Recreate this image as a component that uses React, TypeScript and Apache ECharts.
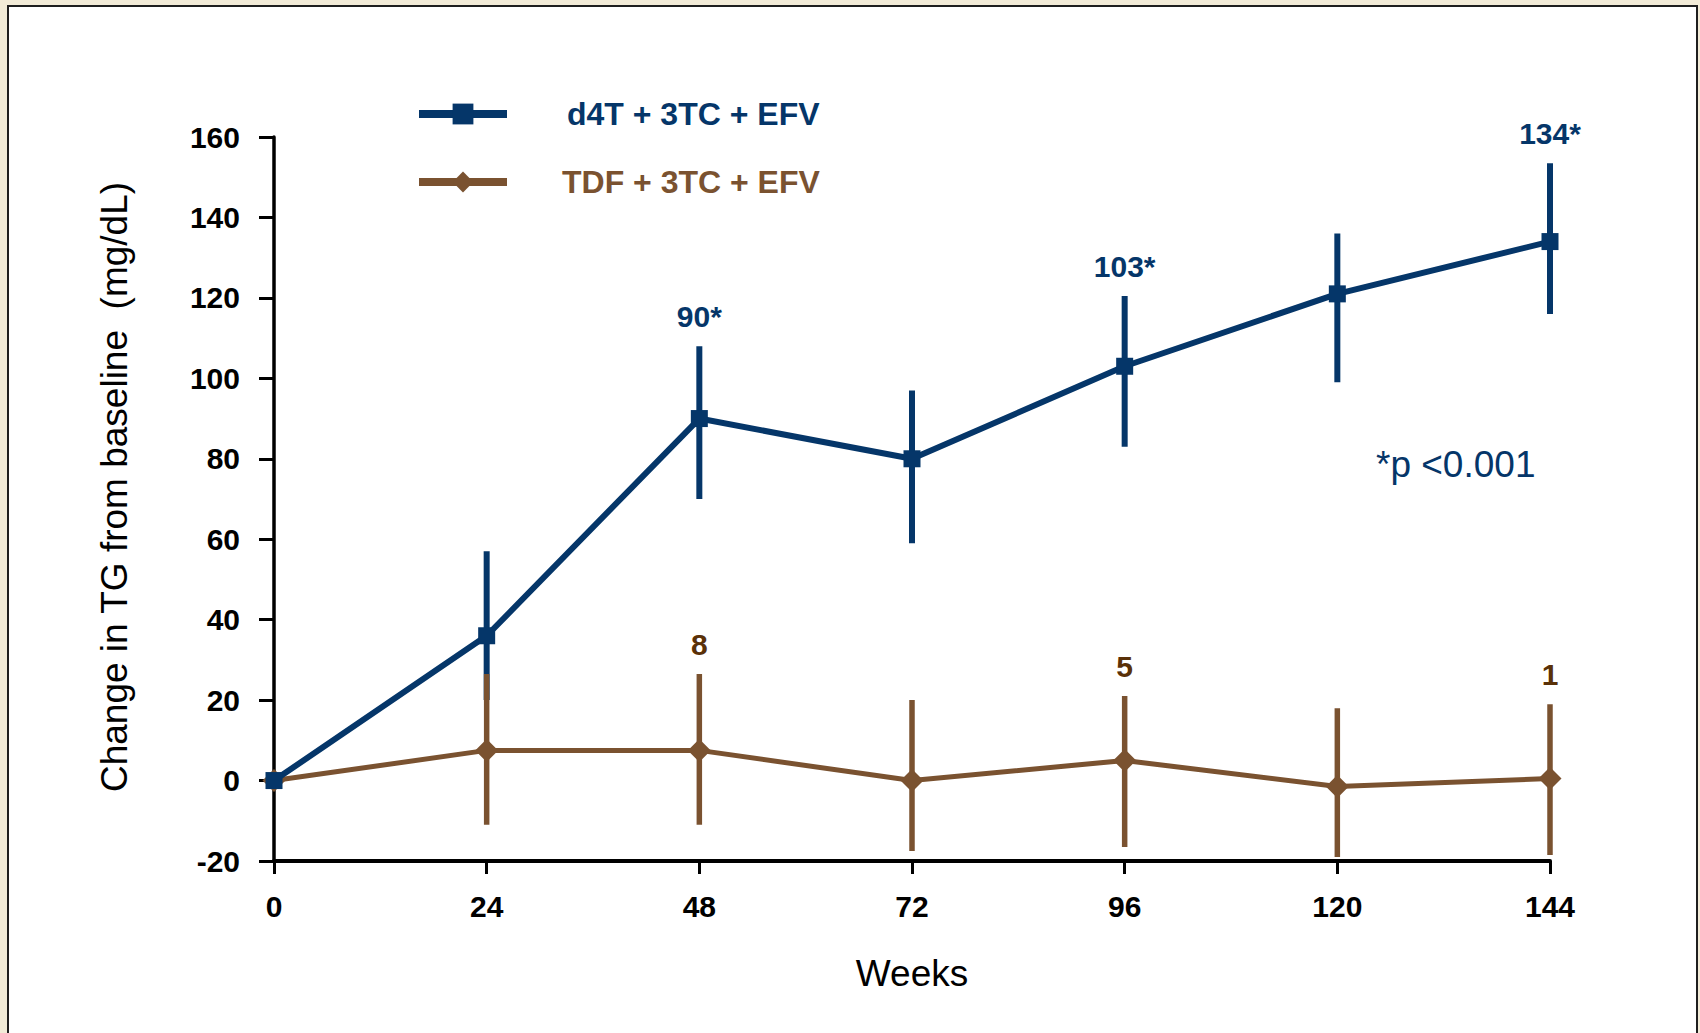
import React, { useEffect, useRef } from "react";
import * as echarts from "echarts";

const weeks = [0, 24, 48, 72, 96, 120, 144];

const d4tMean = [0, 36, 90, 80, 103, 121, 134];
const d4tLow = [0, 20, 70, 59, 83, 99, 116];
const d4tHigh = [0, 57, 108, 97, 120.5, 136, 153.5];
const d4tLabels = ["", "", "90*", "", "103*", "", "134*"];

const tdfMean = [0, 7.5, 7.5, 0, 5, -1.5, 0.5];
const tdfLow = [0, -11, -11, -17.5, -16.5, -19, -18.5];
const tdfHigh = [0, 26.5, 26.5, 20, 21, 18, 19];
const tdfLabels = ["", "", "8", "", "5", "", "1"];

const d4tName = "d4T + 3TC + EFV";
const tdfName = "TDF + 3TC + EFV";
const yTitle = "Change in TG from baseline  (mg/dL)";
const xTitle = "Weeks";
const pNote = "*p <0.001";

const BLUE = "#053669";
const BROWN = "#7A5230";
const BROWN_TEXT = "#5A3108";
const FONT = "'Liberation Sans', Arial, sans-serif";

export default function App() {
  const ref = useRef<HTMLDivElement>(null);

  useEffect(() => {
    if (!ref.current) return;
    const chart = echarts.init(ref.current, undefined, { renderer: "svg" });

    const errData = (low: number[], high: number[]) =>
      weeks
        .map((w, i) => [w, low[i], high[i]])
        .filter((_, i) => i > 0);

    const labelData = (high: number[], labels: string[]) =>
      weeks
        .map((w, i) => [w, high[i], labels[i]])
        .filter((d) => d[2] !== "");

    const errRender = (color: string, width: number) => (params: any, api: any) => {
      const x = api.value(0);
      const p1 = api.coord([x, api.value(1)]);
      const p2 = api.coord([x, api.value(2)]);
      return {
        type: "line",
        shape: { x1: p1[0], y1: p1[1], x2: p2[0], y2: p2[1] },
        style: { stroke: color, lineWidth: width },
      };
    };

    const option: any = {
      animation: false,
      backgroundColor: "#F2EBD7",
      textStyle: { fontFamily: FONT },
      graphic: [
        {
          type: "rect",
          z: -10,
          shape: { x: 8, y: 6, width: 1689, height: 1060 },
          style: { fill: "#ffffff", stroke: "#1e1e1e", lineWidth: 2 },
          silent: true,
        },
        {
          type: "text",
          left: 1376,
          top: 446,
          style: {
            text: pNote,
            fill: BLUE,
            font: `37px ${FONT}`,
          },
          silent: true,
        },
      ],
      legend: {
        orient: "vertical",
        left: 410,
        top: 93,
        itemWidth: 88,
        itemHeight: 26,
        itemGap: 36,
        lineStyle: { width: 8 },
        selectedMode: false,
        data: [
          {
            name: d4tName,
            textStyle: { color: BLUE, fontSize: 32, fontWeight: "bold", fontFamily: FONT, padding: [6, 0, 0, 55] },
          },
          {
            name: tdfName,
            textStyle: { color: BROWN, fontSize: 32, fontWeight: "bold", fontFamily: FONT, padding: [6, 0, 0, 50] },
          },
        ],
      },
      grid: { left: 274, right: 150, top: 137, bottom: 172, containLabel: false },
      xAxis: {
        type: "value",
        min: 0,
        max: 144,
        interval: 24,
        name: xTitle,
        nameLocation: "middle",
        nameGap: 94,
        nameTextStyle: { fontSize: 37, color: "#000", fontFamily: FONT },
        axisLine: { show: true, onZero: false, lineStyle: { color: "#000", width: 4 } },
        axisTick: { show: true, length: 13, lineStyle: { color: "#000", width: 3 } },
        axisLabel: { fontSize: 30, fontWeight: "bold", color: "#000", margin: 30, fontFamily: FONT },
        splitLine: { show: false },
      },
      yAxis: {
        type: "value",
        min: -20,
        max: 160,
        interval: 20,
        name: yTitle,
        nameLocation: "middle",
        nameRotate: 90,
        nameGap: 141,
        nameTextStyle: { fontSize: 37, color: "#000", fontFamily: FONT, padding: [0, 0, 0, 24] },
        axisLine: { show: true, onZero: false, lineStyle: { color: "#000", width: 3.5 } },
        axisTick: { show: true, length: 15, lineStyle: { color: "#000", width: 3 } },
        axisLabel: { fontSize: 30, fontWeight: "bold", color: "#000", margin: 34, fontFamily: FONT },
        splitLine: { show: false },
      },
      series: [
        {
          type: "custom",
          name: "d4tErr",
          z: 2,
          silent: true,
          renderItem: errRender(BLUE, 6),
          data: errData(d4tLow, d4tHigh),
        },
        {
          type: "custom",
          name: "tdfErr",
          z: 3,
          silent: true,
          renderItem: errRender(BROWN, 5.5),
          data: errData(tdfLow, tdfHigh),
        },
        {
          type: "line",
          name: tdfName,
          z: 4,
          data: weeks.map((w, i) => [w, tdfMean[i]]),
          symbol: "diamond",
          symbolSize: [23, 23],
          showAllSymbol: true,
          lineStyle: { color: BROWN, width: 5 },
          itemStyle: { color: BROWN },
        },
        {
          type: "line",
          name: d4tName,
          z: 5,
          data: weeks.map((w, i) => [w, d4tMean[i]]),
          symbol: "rect",
          symbolSize: 17,
          showAllSymbol: true,
          lineStyle: { color: BLUE, width: 6 },
          itemStyle: { color: BLUE },
        },
        {
          type: "scatter",
          name: "d4tLabels",
          z: 6,
          silent: true,
          symbolSize: 1,
          itemStyle: { color: "transparent", opacity: 1 },
          data: labelData(d4tHigh, d4tLabels),
          label: {
            show: true,
            position: "top",
            distance: 14,
            formatter: (p: any) => p.value[2],
            fontSize: 30,
            fontWeight: "bold",
            color: BLUE,
            opacity: 1,
            fontFamily: FONT,
          },
        },
        {
          type: "scatter",
          name: "tdfLabels",
          z: 6,
          silent: true,
          symbolSize: 1,
          itemStyle: { color: "transparent", opacity: 1 },
          data: labelData(tdfHigh, tdfLabels),
          label: {
            show: true,
            position: "top",
            distance: 14,
            formatter: (p: any) => p.value[2],
            fontSize: 30,
            fontWeight: "bold",
            color: BROWN_TEXT,
            opacity: 1,
            fontFamily: FONT,
          },
        },
      ],
    };

    chart.setOption(option);
    return () => chart.dispose();
  }, []);

  return (
    <div
      ref={ref}
      style={{ position: "absolute", left: 0, top: 0, width: 1700, height: 1033 }}
    />
  );
}
